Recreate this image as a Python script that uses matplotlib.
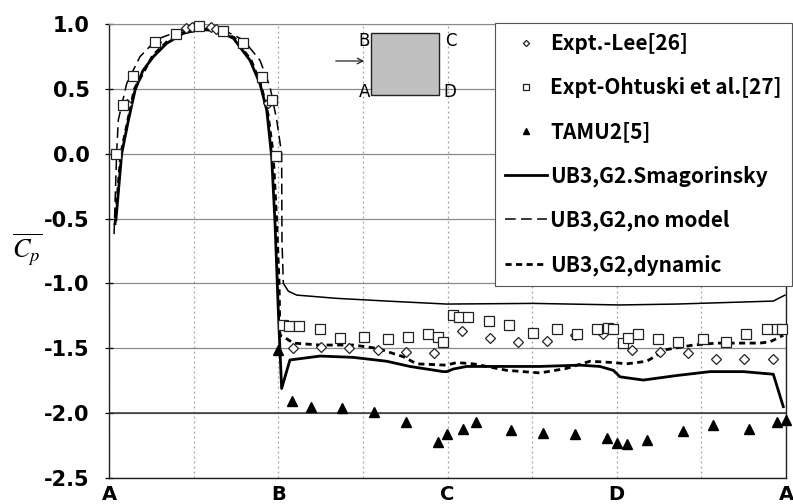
import numpy as np
import matplotlib.pyplot as plt
from matplotlib.patches import Rectangle

# perimeter coordinate: A=0, B=1, C=2, D=3, A=4
face_ticks = [0, 1, 2, 3, 4]
face_labels = ["A", "B", "C", "D", "A"]
cp_ticks = [1.0, 0.5, 0.0, -0.5, -1.0, -1.5, -2.0, -2.5]
cp_labels = ["1.0", "0.5", "0.0", "-0.5", "-1.0", "-1.5", "-2.0", "-2.5"]

lee_s = [0.105, 0.28, 0.455, 0.49, 0.60, 0.63, 0.94,
         1.085, 1.253, 1.42, 1.588, 1.755, 1.92,
         2.084, 2.251, 2.418, 2.586, 2.753, 2.921,
         3.088, 3.256, 3.423, 3.586, 3.754, 3.921]
lee_cp = [0.38, 0.86, 0.97, 0.975, 0.975, 0.965, 0.39,
          -1.50, -1.49, -1.50, -1.51, -1.53, -1.54,
          -1.37, -1.42, -1.45, -1.44, -1.40, -1.39,
          -1.51, -1.53, -1.54, -1.58, -1.58, -1.58]

ohtsuki_s = [0.041, 0.081, 0.144, 0.272, 0.396, 0.534, 0.672, 0.79, 0.906, 0.961, 0.987,
             1.03, 1.063, 1.124, 1.247, 1.365, 1.509, 1.646, 1.765, 1.883, 1.942, 1.972,
             2.034, 2.068, 2.123, 2.245, 2.365, 2.503, 2.645, 2.763, 2.881, 2.946, 2.976,
             3.035, 3.068, 3.127, 3.245, 3.364, 3.508, 3.646, 3.764, 3.886, 3.944, 3.978]
ohtsuki_cp = [0.0, 0.375, 0.60, 0.864, 0.923, 0.987, 0.946, 0.851, 0.594, 0.414, -0.015,
              -1.32, -1.33, -1.33, -1.35, -1.42, -1.41, -1.43, -1.41, -1.39, -1.41, -1.45,
              -1.24, -1.26, -1.26, -1.29, -1.32, -1.38, -1.35, -1.39, -1.35, -1.34, -1.35,
              -1.46, -1.42, -1.39, -1.43, -1.45, -1.43, -1.45, -1.39, -1.35, -1.35, -1.35]

tamu_s = [1.0, 1.079, 1.192, 1.379, 1.568, 1.755, 1.942, 1.995, 2.09, 2.168, 2.375,
          2.566, 2.753, 2.941, 3.0, 3.059, 3.177, 3.39, 3.571, 3.783, 3.945, 4.0]
tamu_cp = [-1.51, -1.91, -1.95, -1.96, -1.99, -2.07, -2.22, -2.16, -2.12, -2.07, -2.13,
           -2.15, -2.16, -2.19, -2.23, -2.24, -2.21, -2.14, -2.09, -2.12, -2.07, -2.05]

smag_s = [0.041, 0.075, 0.115, 0.154, 0.20, 0.262, 0.341, 0.439, 0.538, 0.636, 0.735, 0.833,
          0.892, 0.932, 0.961, 0.981, 1.0, 1.02, 1.069, 1.247, 1.443, 1.641,
          1.778, 1.877, 1.975, 1.995, 2.034, 2.113, 2.35, 2.547, 2.783, 2.90,
          2.98, 3.019, 3.157, 3.354, 3.551, 3.748, 3.925, 3.984]
smag_cp = [-0.51, 0.0, 0.26, 0.49, 0.64, 0.748, 0.851, 0.928, 0.959, 0.948, 0.89, 0.72,
           0.54, 0.337, -0.023, -0.537, -1.2, -1.81, -1.59, -1.56, -1.57, -1.60,
           -1.64, -1.66, -1.68, -1.68, -1.66, -1.64, -1.64, -1.64, -1.63, -1.64,
           -1.67, -1.72, -1.745, -1.71, -1.68, -1.68, -1.70, -1.95]

nomod_s = [0.03, 0.045, 0.055, 0.105, 0.183, 0.282, 0.42, 0.538, 0.675, 0.794, 0.892,
           0.951, 0.991, 1.02, 1.022, 1.03, 1.06, 1.109, 1.345, 1.641, 1.995, 2.507,
           3.019, 3.354, 3.925, 3.994]
nomod_cp = [-0.62, 0.0, 0.26, 0.543, 0.748, 0.882, 0.948, 0.974, 0.954, 0.877, 0.72,
            0.517, 0.26, 0.0, -0.67, -1.0, -1.06, -1.09, -1.115, -1.136, -1.159, -1.154,
            -1.166, -1.159, -1.136, -1.09]

dyn_s = [0.035, 0.07, 0.15, 0.26, 0.34, 0.44, 0.54, 0.64, 0.74, 0.84,
         0.90, 0.94, 0.97, 0.99, 1.005, 1.01, 1.03, 1.089, 1.247, 1.443,
         1.582, 1.739, 1.818, 1.995, 2.054, 2.153, 2.35, 2.547, 2.704, 2.842,
         2.98, 3.059, 3.177, 3.295, 3.452, 3.59, 3.846, 3.906, 3.984]
dyn_cp = [-0.55, 0.0, 0.5, 0.76, 0.86, 0.935, 0.962, 0.952, 0.895, 0.72,
          0.52, 0.3, 0.0, -0.5, -1.0, -1.4, -1.41, -1.46, -1.475, -1.475,
          -1.50, -1.565, -1.62, -1.63, -1.61, -1.62, -1.67, -1.69, -1.655, -1.60,
          -1.61, -1.62, -1.60, -1.51, -1.475, -1.46, -1.46, -1.45, -1.40]

plt.rcParams['font.family'] = ['DejaVu Sans']
plt.rcParams['mathtext.fontset'] = 'stix'

W, H = 793, 504
fig = plt.figure(figsize=(W / 100, H / 100), dpi=100)
ax = fig.add_axes([109 / W, 1 - 478 / H, (786 - 109) / W, (478 - 24) / H])

# grid
ax.set_xlim(0, 4)
ax.set_ylim(-2.5, 1.0)
ax.set_xticks(face_ticks)
ax.set_xticklabels(face_labels, fontsize=14, fontweight="bold")
ax.set_xticks(np.arange(0.5, 4, 1.0), minor=True)
ax.set_yticks(cp_ticks)
ax.set_yticklabels(cp_labels, fontsize=15, fontweight="bold")
ax.tick_params(axis="x", which="both", length=0, pad=5)
ax.tick_params(axis="y", length=6, direction="inout", width=0.9, pad=11)
ax.grid(axis="y", color="#8a8a8a", lw=0.9)
ax.grid(axis="x", which="both", color="#a0a0a0", lw=0.9, ls=(0, (1.5, 2.5)))
ax.axhline(-2.0, color="#333333", lw=1.1, zorder=1)
ax.set_axisbelow(True)
for side in ["left", "bottom", "right"]:
    ax.spines[side].set_color("#222222")
    ax.spines[side].set_linewidth(1.0)
ax.spines["top"].set_color("#8a8a8a")

# data
ax.plot(lee_s, lee_cp, ls="none", marker="D", ms=4.8, mfc="white", mec="#222222",
        mew=0.9, label="Expt.-Lee[26]", clip_on=False, zorder=4)
ax.plot(ohtsuki_s, ohtsuki_cp, ls="none", marker="s", ms=6.8, mfc="white", mec="#222222",
        mew=0.9, label="Expt-Ohtuski et al.[27]", clip_on=False, zorder=4)
ax.plot(tamu_s, tamu_cp, ls="none", marker="^", ms=6.5, color="black",
        label="TAMU2[5]", clip_on=False, zorder=4)
ax.plot(smag_s, smag_cp, color="black", lw=2.0, label="UB3,G2.Smagorinsky", zorder=3)

ns = np.array(nomod_s)
nc = np.array(nomod_cp)
front = ns <= 1.03
ax.plot(ns[front], nc[front], color="black", lw=1.1, dashes=(7, 3.5),
        label="UB3,G2,no model", zorder=3)
ax.plot(ns[ns >= 1.03], nc[ns >= 1.03], color="black", lw=1.1, zorder=3)

ax.plot(dyn_s, dyn_cp, color="black", lw=2.0, dashes=(2.2, 1.6),
        label="UB3,G2,dynamic", zorder=3)

leg = ax.legend(loc="upper right", bbox_to_anchor=(792 / W, 1 - 23 / H),
                bbox_transform=fig.transFigure, borderaxespad=0,
                prop={"family": ["Noto Sans CJK JP", "DejaVu Sans"], "weight": "bold", "size": 15},
                handlelength=2.0, handletextpad=0.15, labelspacing=1.1, borderpad=0.5,
                markerscale=0.65, fancybox=False, framealpha=1, edgecolor="#555555")
leg.get_frame().set_linewidth(0.8)

# inset sketch of the square cylinder
fig.patches.append(Rectangle((371 / W, 1 - 95 / H), (439 - 371) / W, (95 - 33) / H,
                             transform=fig.transFigure, facecolor="#c0c0c0",
                             edgecolor="#222222", lw=1.0))
fig.text(370 / W, 1 - 41 / H, "B", ha="right", va="center", fontsize=12)
fig.text(445 / W, 1 - 41 / H, "C", ha="left", va="center", fontsize=12)
fig.text(370 / W, 1 - 92 / H, "A", ha="right", va="center", fontsize=12)
fig.text(443 / W, 1 - 92 / H, "D", ha="left", va="center", fontsize=12)
ax.annotate("", xy=(367 / W, 1 - 61 / H), xytext=(333 / W, 1 - 61 / H),
            xycoords="figure fraction", textcoords="figure fraction",
            arrowprops=dict(arrowstyle="->", color="#222222", lw=0.9))

fig.text(12 / W, 1 - 250 / H, r"$\overline{C_p}$", fontsize=19, ha="left", va="center")

fig.savefig("out.png", dpi=100)
